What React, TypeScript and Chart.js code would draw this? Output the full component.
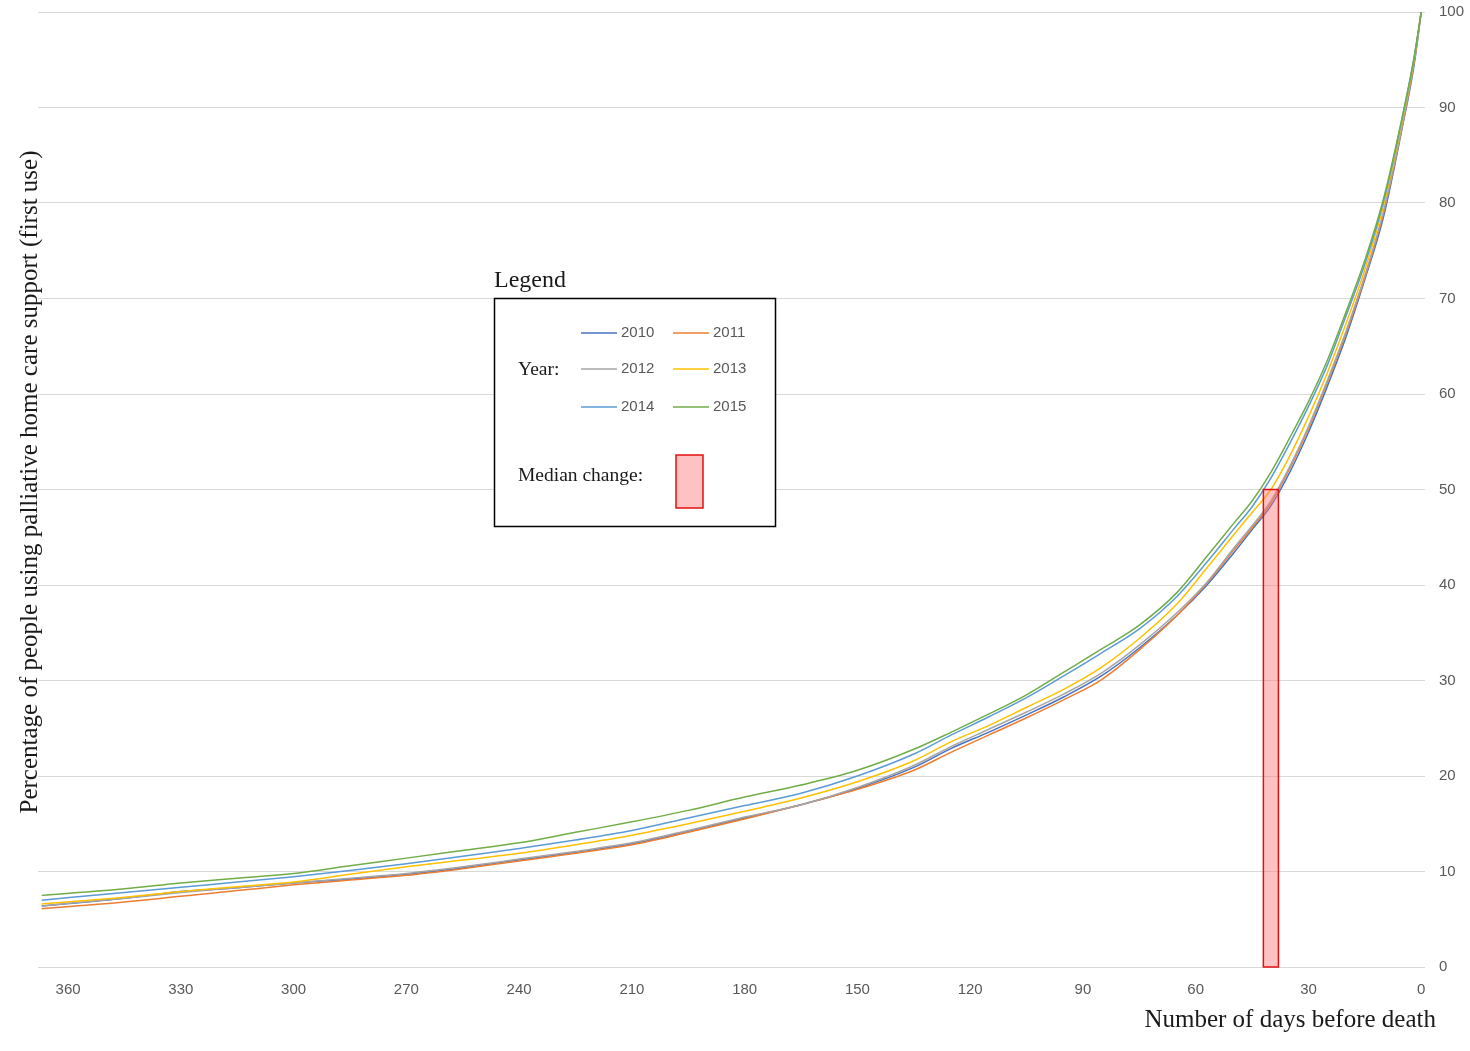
import React, { useEffect, useRef } from "react";
import { Chart, registerables } from "chart.js";

Chart.register(...registerables);

const days = [367, 345, 330, 315, 300, 285, 270, 255, 240, 225, 210, 195, 180, 165, 150, 135, 125, 115, 105, 95, 85, 75, 65, 57, 50, 45, 40, 35, 30, 25, 20, 15, 10, 5, 2, 0];

const years = ["2010", "2011", "2012", "2013", "2014", "2015"];
const colors = ["#4472c4", "#ed7d31", "#a5a5a5", "#ffc000", "#5b9bd5", "#70ad47"];

const y2010 = [6.4, 7.2, 7.9, 8.3, 8.8, 9.2, 9.7, 10.4, 11.2, 12.0, 12.9, 14.2, 15.6, 17.0, 18.7, 20.9, 22.9, 24.6, 26.4, 28.3, 30.5, 33.4, 36.8, 40.0, 43.3, 45.8, 48.3, 51.8, 56.0, 60.8, 66.0, 72.0, 78.6, 88.0, 94.2, 100];
const y2011 = [6.1, 6.8, 7.4, 8.0, 8.6, 9.1, 9.6, 10.3, 11.1, 11.9, 12.8, 14.1, 15.5, 17.0, 18.6, 20.6, 22.5, 24.3, 26.1, 28.0, 30.1, 33.2, 36.8, 40.2, 43.6, 46.0, 48.6, 52.2, 56.4, 61.2, 66.4, 72.2, 79.0, 88.2, 94.5, 100];
const y2012 = [6.4, 7.2, 7.8, 8.3, 8.8, 9.3, 9.8, 10.5, 11.3, 12.1, 13.0, 14.3, 15.7, 17.0, 18.8, 21.1, 23.1, 24.9, 26.7, 28.6, 30.8, 33.7, 37.1, 40.3, 43.8, 46.2, 48.8, 52.4, 56.6, 61.4, 66.6, 72.4, 79.2, 88.3, 94.6, 100];
const y2013 = [6.6, 7.3, 7.9, 8.4, 8.9, 9.7, 10.5, 11.2, 11.9, 12.8, 13.8, 15.0, 16.3, 17.7, 19.4, 21.6, 23.6, 25.3, 27.2, 29.1, 31.4, 34.4, 38.0, 41.8, 45.2, 47.6, 50.0, 53.5, 57.6, 62.2, 67.4, 73.0, 79.8, 88.7, 94.8, 100];
const y2014 = [7.0, 7.8, 8.35, 8.9, 9.45, 10.1, 10.8, 11.6, 12.4, 13.3, 14.3, 15.6, 16.9, 18.2, 20.0, 22.3, 24.3, 26.2, 28.2, 30.5, 32.9, 35.4, 38.8, 42.4, 45.8, 48.2, 51.2, 54.8, 58.7, 63.0, 68.2, 73.6, 80.2, 89.0, 95.0, 100];
const y2015 = [7.5, 8.2, 8.8, 9.3, 9.8, 10.6, 11.4, 12.2, 13.0, 14.1, 15.2, 16.4, 17.8, 19.05, 20.6, 22.8, 24.6, 26.5, 28.5, 30.9, 33.3, 35.8, 39.2, 43.0, 46.4, 48.8, 51.8, 55.4, 59.2, 63.5, 68.6, 74.0, 80.5, 89.1, 95.0, 100];

const seriesValues = [y2010, y2011, y2012, y2013, y2014, y2015];

// Median change marker: day range and height (%)
const medianDays = [38, 42];
const medianValue = 50;

const yTitle = "Percentage of people using palliative home care support (first use)";
const xTitle = "Number of days before death";

const SERIF = "'Liberation Serif', 'Times New Roman', serif";
const SANS = "'Liberation Sans', Arial, sans-serif";

const overlayPlugin = {
  id: "overlay",
  afterDatasetsDraw(chart: any) {
    const { ctx, scales } = chart;
    const xs = scales.x;
    const ys = scales.y;
    const x1 = xs.getPixelForValue(medianDays[1]);
    const x2 = xs.getPixelForValue(medianDays[0]);
    const yTop = ys.getPixelForValue(medianValue);
    const yBot = ys.getPixelForValue(0);
    ctx.save();
    ctx.fillStyle = "rgba(255, 120, 120, 0.45)";
    ctx.fillRect(x1, yTop, x2 - x1, yBot - yTop);
    ctx.strokeStyle = "#e01010";
    ctx.lineWidth = 1.5;
    ctx.strokeRect(x1, yTop, x2 - x1, yBot - yTop);
    ctx.restore();
  },
  afterDraw(chart: any) {
    const { ctx } = chart;
    ctx.save();
    ctx.fillStyle = "#1a1a1a";
    ctx.font = `25px ${SERIF}`;
    ctx.textAlign = "center";
    ctx.textBaseline = "middle";
    ctx.translate(30, 482);
    ctx.rotate(-Math.PI / 2);
    ctx.fillText(yTitle, 0, 0);
    ctx.restore();

    ctx.save();
    ctx.fillStyle = "#1a1a1a";
    ctx.font = `25px ${SERIF}`;
    ctx.textAlign = "right";
    ctx.textBaseline = "middle";
    ctx.fillText(xTitle, 1436, 1020);

    // Legend box
    ctx.textAlign = "left";
    ctx.font = `24px ${SERIF}`;
    ctx.fillText("Legend", 494, 281);
    ctx.fillStyle = "#ffffff";
    ctx.fillRect(494, 298, 281, 228);
    ctx.strokeStyle = "#000000";
    ctx.lineWidth = 1.5;
    ctx.strokeRect(494.5, 298.5, 281, 228);

    ctx.fillStyle = "#1a1a1a";
    ctx.font = `19.5px ${SERIF}`;
    ctx.fillText("Year:", 518, 370);
    ctx.fillText("Median change:", 518, 476);

    const rowsY = [333, 369, 407];
    const colsX = [581, 673];
    ctx.font = `15px ${SANS}`;
    chart.data.datasets.forEach((ds: any, i: number) => {
      const r = Math.floor(i / 2);
      const c = i % 2;
      const lx = colsX[c];
      const ly = rowsY[r];
      ctx.strokeStyle = ds.borderColor;
      ctx.lineWidth = 1.5;
      ctx.beginPath();
      ctx.moveTo(lx, ly);
      ctx.lineTo(lx + 36, ly);
      ctx.stroke();
      ctx.fillStyle = "#595959";
      ctx.fillText(ds.label, lx + 40, ly);
    });

    ctx.fillStyle = "rgba(255, 120, 120, 0.45)";
    ctx.fillRect(676, 455, 27, 53);
    ctx.strokeStyle = "#e01010";
    ctx.lineWidth = 1.5;
    ctx.strokeRect(676, 455, 27, 53);
    ctx.restore();
  },
};

export default function App() {
  const ref = useRef<HTMLCanvasElement>(null);
  useEffect(() => {
    if (!ref.current) return;
    const chart = new Chart(ref.current, {
      type: "line",
      data: {
        datasets: years.map((yr, i) => ({
          label: yr,
          data: days.map((d, j) => ({ x: d, y: seriesValues[i][j] })),
          borderColor: colors[i],
          backgroundColor: colors[i],
          borderWidth: 1.5,
          pointRadius: 0,
          order: years.length - i,
          cubicInterpolationMode: "monotone" as const,
          fill: false,
        })),
      },
      options: {
        animation: false,
        responsive: true,
        maintainAspectRatio: false,
        layout: { padding: { left: 38, top: 12, right: 0, bottom: 0 } },
        plugins: { legend: { display: false }, tooltip: { enabled: false } },
        scales: {
          x: {
            type: "linear",
            reverse: true,
            min: -1,
            max: 368,
            grid: { display: false },
            border: { display: false },
            ticks: {
              stepSize: 30,
              includeBounds: false,
              color: "#595959",
              font: { family: SANS, size: 15 },
              padding: 6,
              maxRotation: 0,
            },
            afterFit(scale: any) {
              scale.height = 84;
              scale.paddingLeft = 0;
              scale.paddingRight = 0;
            },
          },
          y: {
            position: "right",
            min: 0,
            max: 100,
            grid: { color: "#d9d9d9", lineWidth: 1, drawTicks: false },
            border: { display: false },
            ticks: {
              stepSize: 10,
              color: "#595959",
              font: { family: SANS, size: 15 },
              padding: 14,
            },
            afterFit(scale: any) {
              scale.width = 45;
              scale.paddingTop = 0;
              scale.paddingBottom = 0;
            },
          },
        },
      },
      plugins: [overlayPlugin],
    });
    return () => chart.destroy();
  }, []);
  return (
    <div style={{ position: "fixed", left: 0, top: 0, width: 1470, height: 1051, background: "#fff" }}>
      <canvas ref={ref} />
    </div>
  );
}
